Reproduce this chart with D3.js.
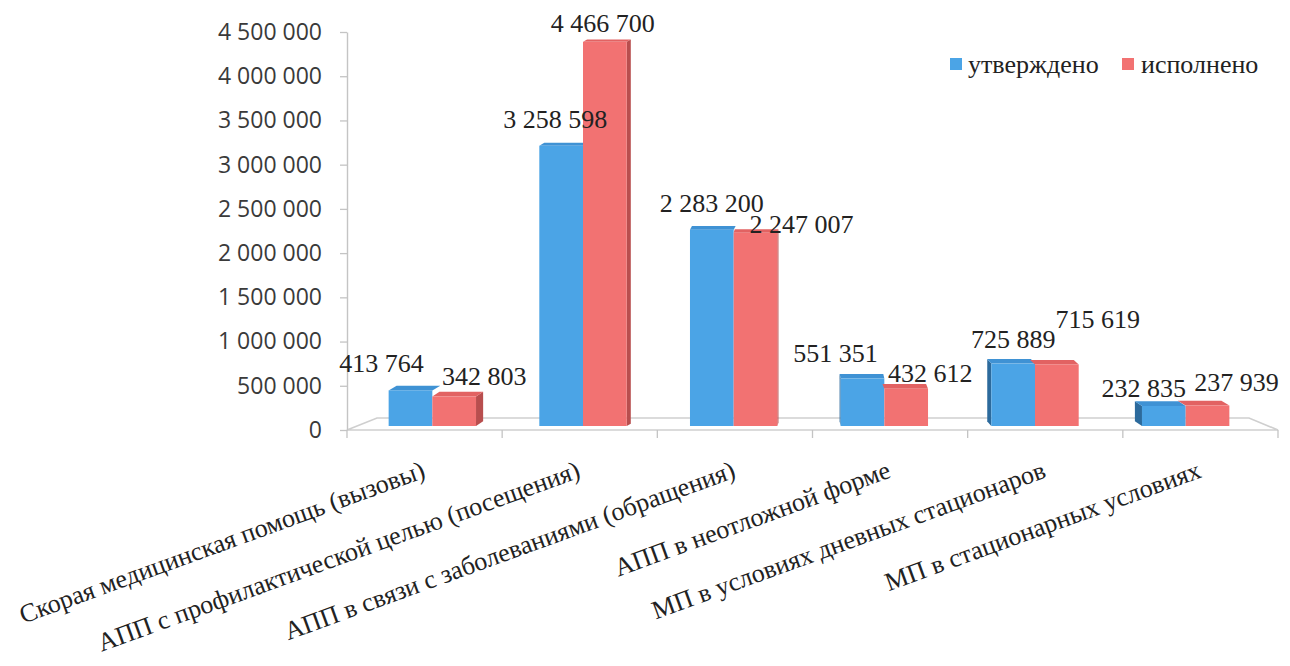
<!DOCTYPE html>
<html lang="ru">
<head>
<meta charset="utf-8">
<script src="https://cdn.jsdelivr.net/npm/d3@7"></script>
<style>
  html, body { margin: 0; padding: 0; background: #fff; }
  svg { display: block; }
</style>
</head>
<body>
<svg id="chart" width="1290" height="666"></svg>
<script>
// Объёмы медицинской помощи: утверждено и исполнено
const categories = [
  "Скорая медицинская помощь (вызовы)",
  "АПП с профилактической целью (посещения)",
  "АПП в связи с заболеваниями (обращения)",
  "АПП в неотложной форме",
  "МП в условиях дневных стационаров",
  "МП в стационарных условиях"
];
const seriesNames = ["утверждено", "исполнено"];
const approved = [413764, 3258598, 2283200, 551351, 725889, 232835];
const executed = [342803, 4466700, 2247007, 432612, 715619, 237939];
const yTicks = [0, 500000, 1000000, 1500000, 2000000, 2500000, 3000000, 3500000, 4000000, 4500000];

// hand-placed label nudges (dx, dy) relative to each column's top centre
const approvedLabelShift = [[-29, -18], [-6, -18], [0, -18], [-27, -17], [0, -16], [-20, -9]];
const executedLabelShift = [[30, -12], [-2, -10], [46, 0], [24, -7], [41, -36], [29, -15]];

const colors = {
  blue:  { front: "#4ba4e6", top: "#3f92d4", side: "#2c6a9c" },
  red:   { front: "#f27272", top: "#e26262", side: "#b84e4e" }
};

const SERIF = '"Liberation Serif"';
const SANS = '"Open Sans"';

const fmt = v => d3.format(",")(v).replace(/,/g, " ");

const svg = d3.select("#chart");

// front plane of the 3D box (axes) and the mid-depth plane where columns stand
const x = d3.scaleBand().domain(categories).range([347, 1278]);
const xMid = d3.scaleBand().domain(categories).range([357, 1261]);
const yAxis = d3.scaleLinear().domain([0, 4500000]).range([430, 32]);
const yBar = d3.scaleLinear().domain([0, 4500000]).range([426, 39]);

const floorBack = 418;
const pivotX = 810;

// floor of the 3D plot area
const [fx0, fx1] = x.range();
svg.append("polygon")
  .attr("points", [[fx0, yAxis(0)], [fx1, yAxis(0)], [fx1 - 29, floorBack], [fx0 + 30, floorBack]].map(p => p.join(",")).join(" "))
  .attr("fill", "none")
  .attr("stroke", "#cfcfcf")
  .attr("stroke-width", 1.6);

// category tick marks along the front edge
const tickXs = categories.map(c => x(c)).concat([fx1]);
svg.append("g").selectAll("line").data(tickXs).join("line")
  .attr("x1", d => d).attr("x2", d => d)
  .attr("y1", yAxis(0)).attr("y2", yAxis(0) + 8)
  .attr("stroke", "#c4c4c4").attr("stroke-width", 1.3);

// value axis
const gy = svg.append("g")
  .attr("transform", `translate(${fx0},0)`)
  .call(d3.axisLeft(yAxis).tickValues(yTicks).tickFormat(fmt).tickSize(7).tickSizeOuter(0).tickPadding(18));
gy.select(".domain").attr("stroke", "#c4c4c4").attr("stroke-width", 1.4);
gy.selectAll(".tick line").attr("stroke", "#c4c4c4").attr("stroke-width", 1.3);
gy.selectAll(".tick text")
  .attr("fill", "#3a3a3a")
  .style("font-family", SANS)
  .style("font-size", "23px");

// columns
const barW = xMid.bandwidth() * 0.29;
const bars = [];
categories.forEach((c, i) => {
  const cx = xMid(c) + xMid.bandwidth() / 2;
  bars.push({ cat: c, v: approved[i], x0: cx - barW, x1: cx, col: colors.blue, outer: "left", shift: approvedLabelShift[i] });
  bars.push({ cat: c, v: executed[i], x0: cx, x1: cx + barW, col: colors.red, outer: "right", shift: executedLabelShift[i] });
});

const gBars = svg.append("g");
bars.forEach(b => {
  const yt = yBar(b.v), yb = yBar(0);
  const mid = (b.x0 + b.x1) / 2;
  const dx = (pivotX - mid) * 0.02;
  const dy = -(2 + 3 * yt / 430);
  const g = gBars.append("g");
  // side face only on the outer column of each pair
  if (dx > 0 && b.outer === "right") {
    g.append("polygon")
      .attr("points", [[b.x1, yt], [b.x1 + dx, yt + dy], [b.x1 + dx, yb + dy], [b.x1, yb]].map(p => p.join(",")).join(" "))
      .attr("fill", b.col.side);
  }
  if (dx < 0 && b.outer === "left") {
    g.append("polygon")
      .attr("points", [[b.x0, yt], [b.x0 + dx, yt + dy], [b.x0 + dx, yb + dy], [b.x0, yb]].map(p => p.join(",")).join(" "))
      .attr("fill", b.col.side);
  }
  g.append("polygon")
    .attr("points", [[b.x0, yt], [b.x1, yt], [b.x1 + dx, yt + dy], [b.x0 + dx, yt + dy]].map(p => p.join(",")).join(" "))
    .attr("fill", b.col.top);
  g.append("rect")
    .attr("x", b.x0).attr("y", yt)
    .attr("width", b.x1 - b.x0).attr("height", yb - yt)
    .attr("fill", b.col.front);
});

// value labels
svg.append("g").selectAll("text").data(bars).join("text")
  .attr("x", b => (b.x0 + b.x1) / 2 + b.shift[0])
  .attr("y", b => yBar(b.v) + b.shift[1])
  .attr("text-anchor", "middle")
  .attr("fill", "#222")
  .style("font-family", SERIF)
  .style("font-size", "26px")
  .text(b => fmt(b.v));

// category labels, rotated
svg.append("g").selectAll("text").data(categories).join("text")
  .attr("transform", c => `translate(${x(c) + x.bandwidth() / 2 + 2},477) rotate(-20)`)
  .attr("text-anchor", "end")
  .attr("fill", "#222")
  .style("font-family", SERIF)
  .style("font-size", "26px")
  .text(c => c);

// legend
const legend = svg.append("g");
const legendItems = [
  { name: seriesNames[0], color: colors.blue.front, x: 950, tx: 968 },
  { name: seriesNames[1], color: colors.red.front, x: 1122, tx: 1141 }
];
legendItems.forEach(d => {
  legend.append("rect").attr("x", d.x).attr("y", 58).attr("width", 12).attr("height", 12).attr("fill", d.color);
  legend.append("text")
    .attr("x", d.tx).attr("y", 73)
    .attr("fill", "#222")
    .style("font-family", SERIF)
    .style("font-size", "26px")
    .text(d.name);
});
</script>
</body>
</html>
